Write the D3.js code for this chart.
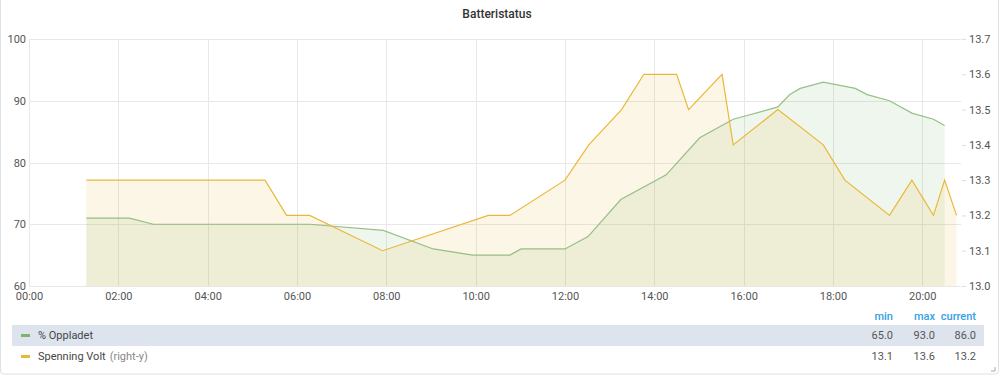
<!DOCTYPE html>
<html>
<head>
<meta charset="utf-8">
<script src="https://cdn.jsdelivr.net/npm/d3@7"></script>
<style>
  body { margin: 0; background: #fff; font-family: Roboto, "Open Sans", sans-serif; }
  svg text { font-family: Roboto, sans-serif; }
</style>
</head>
<body>
<div id="viz"></div>
<script>
// % Oppladet (left axis)
const chargeTimes = ["01:17","02:15","02:47","06:17","07:56","09:03","09:56","10:46","11:01","12:00","12:31","13:15","14:16","15:01","15:46","16:46","17:02","17:16","17:47","18:30","18:46","19:16","19:46","20:15","20:30"]
const chargeValues = [71,71,70,70,69,66,65,65,66,66,68,74,78,84,87,89,91,92,93,92,91,90,88,87,86]

// Spenning Volt (right axis)
const voltTimes = ["01:17","05:17","05:46","06:17","07:55","10:17","10:46","12:00","12:32","13:16","13:46","14:30","14:46","15:31","15:46","16:46","17:47","18:16","19:16","19:46","20:15","20:30","20:46"]
const voltValues = [13.3,13.3,13.2,13.2,13.1,13.2,13.2,13.3,13.4,13.5,13.6,13.6,13.5,13.6,13.4,13.5,13.4,13.3,13.2,13.3,13.2,13.3,13.2]

const leftTicks = [60,70,80,90,100]
const rightTicks = [13.0,13.1,13.2,13.3,13.4,13.5,13.6,13.7]

const legendHeaders = ["min","max","current"]
const legendRows = [
  {name: "% Oppladet", extra: "", color: "#7EB26D", stats: ["65.0","93.0","86.0"]},
  {name: "Spenning Volt", extra: "(right-y)", color: "#EAB839", stats: ["13.1","13.6","13.2"]}
]

const width = 1000
const height = 375
const margin = {top: 39, right: 39, bottom: 89, left: 29}

const parse = d3.timeParse("%H:%M")

const svg = d3.select("#viz").append("svg")
  .attr("width", width)
  .attr("height", height)

// panel border
svg.append("rect")
  .attr("x", 0.5).attr("y", -2)
  .attr("width", width - 2).attr("height", height + 1)
  .attr("rx", 3)
  .attr("fill", "none")
  .attr("stroke", "#dde2ea")

svg.append("text")
  .attr("x", 497).attr("y", 18)
  .attr("text-anchor", "middle")
  .attr("font-size", 12).attr("font-weight", 500)
  .attr("fill", "#333")
  .text("Batteristatus")

const xScale = d3.scaleTime()
  .domain([parse("00:00"), parse("20:52")])
  .range([margin.left, width - margin.right])

const yLeft = d3.scaleLinear().domain([60, 100]).range([height - margin.bottom, margin.top])
const yRight = d3.scaleLinear().domain([13.0, 13.7]).range([height - margin.bottom, margin.top])

// grid
const grid = svg.append("g")
grid.selectAll("line.h").data(leftTicks).join("line")
  .attr("x1", margin.left).attr("x2", width - margin.right)
  .attr("y1", d => Math.round(yLeft(d)) + 0.5).attr("y2", d => Math.round(yLeft(d)) + 0.5)
  .attr("stroke", "#e8e8e8")
const hourTicks = d3.timeHour.every(2).range(parse("00:00"), parse("20:52"))
hourTicks.push(parse("20:00"))
grid.selectAll("line.v").data(hourTicks).join("line")
  .attr("x1", d => Math.round(xScale(d)) + 0.5).attr("x2", d => Math.round(xScale(d)) + 0.5)
  .attr("y1", margin.top).attr("y2", height - margin.bottom)
  .attr("stroke", "#e8e8e8")

const chargeData = chargeTimes.map((t, i) => ({t: parse(t), v: chargeValues[i]}))
const voltData = voltTimes.map((t, i) => ({t: parse(t), v: voltValues[i]}))

const chargeArea = d3.area().x(d => xScale(d.t)).y0(yLeft(60)).y1(d => yLeft(d.v))
const chargeLine = d3.line().x(d => xScale(d.t)).y(d => yLeft(d.v))
const voltArea = d3.area().x(d => xScale(d.t)).y0(yRight(13.0)).y1(d => yRight(d.v))
const voltLine = d3.line().x(d => xScale(d.t)).y(d => yRight(d.v))

svg.append("path").datum(chargeData).attr("d", chargeArea)
  .attr("fill", "#7EB26D").attr("fill-opacity", 0.12)
svg.append("path").datum(voltData).attr("d", voltArea)
  .attr("fill", "#EAB839").attr("fill-opacity", 0.12)
svg.append("path").datum(chargeData).attr("d", chargeLine)
  .attr("fill", "none").attr("stroke", "#7EB26D").attr("stroke-width", 1.2).attr("stroke-opacity", 0.8)
svg.append("path").datum(voltData).attr("d", voltLine)
  .attr("fill", "none").attr("stroke", "#EAB839").attr("stroke-width", 1.2)

// axes
const xAxis = d3.axisBottom(xScale)
  .ticks(d3.timeHour.every(2))
  .tickFormat(d3.timeFormat("%H:%M"))
  .tickSize(0).tickPadding(6)
svg.append("g")
  .attr("transform", `translate(0,${height - margin.bottom})`)
  .call(xAxis)
  .call(g => g.select(".domain").remove())
  .selectAll("text").attr("font-size", 11).attr("fill", "#555")

const leftAxis = d3.axisLeft(yLeft).tickValues(leftTicks).tickSize(0).tickPadding(3)
svg.append("g")
  .attr("transform", `translate(${margin.left},0)`)
  .call(leftAxis)
  .call(g => g.select(".domain").remove())
  .selectAll("text").attr("font-size", 11).attr("fill", "#555")

const rightAxis = d3.axisRight(yRight).tickValues(rightTicks)
  .tickFormat(d3.format(".1f")).tickSize(4).tickPadding(3)
svg.append("g")
  .attr("transform", `translate(${width - margin.right + 1},0)`)
  .call(rightAxis)
  .call(g => g.select(".domain").remove())
  .call(g => g.selectAll("line").attr("stroke", "#ddd"))
  .selectAll("text").attr("font-size", 11).attr("fill", "#555")

// legend table
const colRight = [893, 935, 976]
const legend = svg.append("g").attr("font-size", 11)
legend.selectAll("text.head").data(legendHeaders).join("text")
  .attr("x", (d, i) => colRight[i]).attr("y", 320)
  .attr("text-anchor", "end").attr("font-weight", 500)
  .attr("fill", "#33a2e5")
  .text(d => d)

const rows = legend.selectAll("g.row").data(legendRows).join("g")
  .attr("transform", (d, i) => `translate(0,${335 + i * 21})`)
rows.filter((d, i) => i === 0).append("rect")
  .attr("x", 12).attr("y", -10).attr("width", 972).attr("height", 21)
  .attr("fill", "#dde4ed")
rows.append("rect")
  .attr("x", 21).attr("y", -1).attr("width", 9).attr("height", 3)
  .attr("fill", d => d.color)
rows.append("text")
  .attr("x", 38).attr("y", 4)
  .attr("fill", "#464646")
  .text(d => d.name)
  .append("tspan").attr("fill", "#888").attr("dx", 4).text(d => d.extra)
rows.each(function (d) {
  d3.select(this).selectAll("text.stat").data(d.stats).join("text")
    .attr("x", (s, i) => colRight[i]).attr("y", 4)
    .attr("text-anchor", "end").attr("fill", "#555")
    .text(s => s)
})

// resize handle
svg.append("path").attr("d", "M991,371 L995,371 L995,367")
  .attr("fill", "none").attr("stroke", "#aaa")
</script>
</body>
</html>
